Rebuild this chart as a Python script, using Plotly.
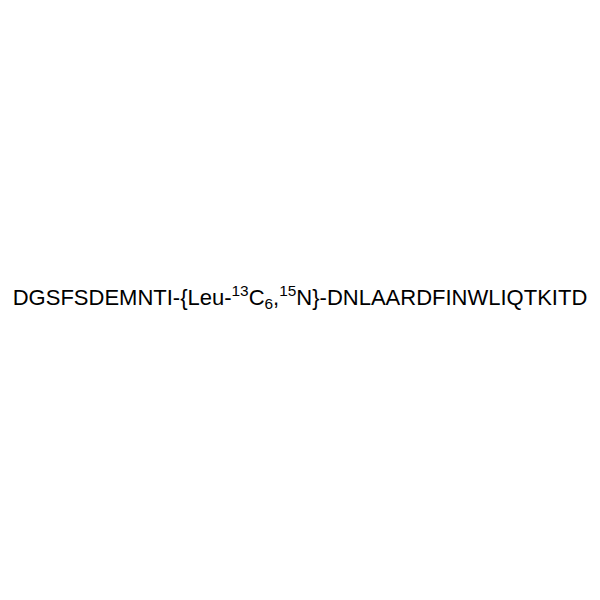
import plotly.graph_objects as go

prefix = "DGSFSDEMNTI-"
label_parts = ["{Leu-", "13", "C", "6", ",", "15", "N}"]
suffix = "-DNLAARDFINWLIQTKITD"

text = (prefix + label_parts[0] + "<sup>" + label_parts[1] + "</sup>" + label_parts[2]
        + "<sub>" + label_parts[3] + "</sub>" + label_parts[4] + "<sup>" + label_parts[5]
        + "</sup>" + label_parts[6] + suffix)

fig = go.Figure()
fig.add_annotation(
    x=292 / 600, y=0.518, xref="paper", yref="paper",
    text=text, showarrow=False,
    width=640, height=60, align="center", borderpad=0,
    font=dict(family="Liberation Sans, Arial", size=22, color="black"),
    xanchor="center", yanchor="middle",
)
fig.update_layout(
    width=600, height=600,
    margin=dict(l=0, r=0, t=0, b=0),
    paper_bgcolor="white", plot_bgcolor="white",
    xaxis=dict(visible=False), yaxis=dict(visible=False),
    showlegend=False,
)
fig.write_html("out.html")
